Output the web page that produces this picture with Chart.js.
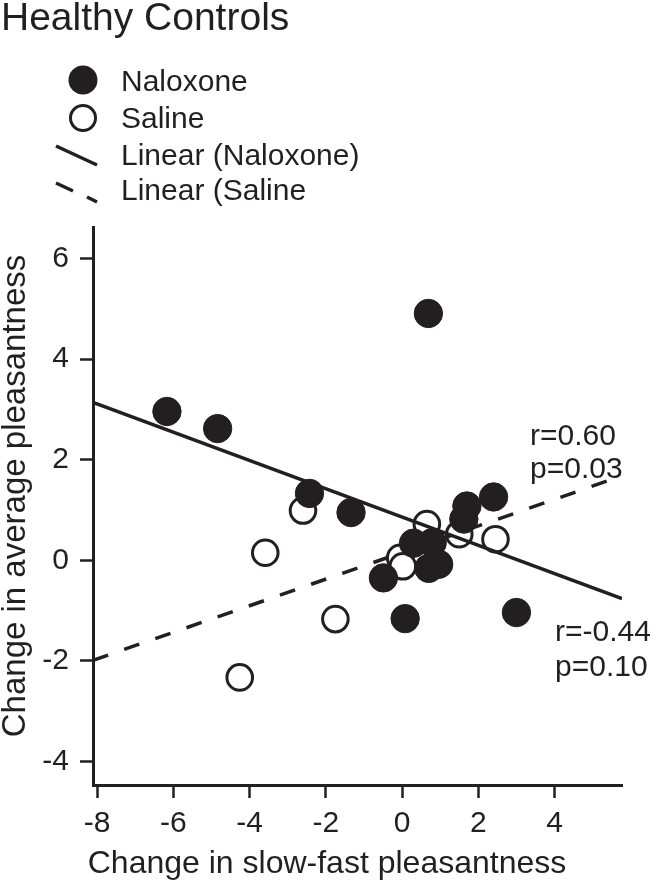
<!DOCTYPE html>
<html>
<head>
<meta charset="utf-8">
<title>Healthy Controls</title>
<script src="https://cdn.jsdelivr.net/npm/chart.js@4"></script>
<style>
  html, body { margin: 0; padding: 0; background: #fff; }
  #wrap { width: 652px; height: 887px; }
</style>
</head>
<body>
<div id="wrap"><canvas id="chart" width="652" height="887"></canvas></div>
<script>
// Values
const naloxoneX = [0.69, -6.17, -4.84, -2.43, -1.34, 1.70, 2.40, 1.62, 0.30, 0.79, 0.70, 0.96, -0.49, 0.08, 3.00];
const naloxoneY = [4.91, 2.96, 2.62, 1.33, 0.95, 1.08, 1.26, 0.82, 0.34, 0.35, -0.16, -0.08, -0.35, -1.16, -1.04];

const salineX = [-4.26, -3.59, -2.60, -1.75, -0.05, 0.02, 0.65, 1.50, 2.45];
const salineY = [-2.33, 0.15, 0.99, -1.17, 0.05, -0.12, 0.72, 0.52, 0.42];

// Linear fits, end points at the axis edges
const fitX = [-8.11, 5.77];
const naloxoneFitY = [3.14, -0.76];
const salineFitY = [-1.99, 1.68];

const xRange = [-8.11, 5.77];
const yRange = [-4.47, 6.63];
const xTicks = [-8, -6, -4, -2, 0, 2, 4];
const yTicks = [-4, -2, 0, 2, 4, 6];

const INK = '#231f20';
const FONT = '"Liberation Sans", Arial, Helvetica, sans-serif';

function toPoints(xs, ys) {
  return xs.map((x, i) => ({ x: x, y: ys[i] }));
}

// title, legend, axis titles and r/p notes
const figureText = {
  id: 'figureText',
  afterDraw(chart) {
    const ctx = chart.ctx;
    ctx.save();
    ctx.fillStyle = INK;
    ctx.strokeStyle = INK;
    ctx.textAlign = 'left';
    ctx.textBaseline = 'middle';

    ctx.font = '39px ' + FONT;
    ctx.fillText('Healthy Controls', 1, 19);

    // legend
    ctx.font = '30px ' + FONT;
    ctx.beginPath();
    ctx.arc(83, 80, 14.5, 0, Math.PI * 2);
    ctx.fill();
    ctx.lineWidth = 3;
    ctx.beginPath();
    ctx.arc(83, 118, 12.5, 0, Math.PI * 2);
    ctx.stroke();
    ctx.lineWidth = 3.5;
    ctx.beginPath();
    ctx.moveTo(56, 146);
    ctx.lineTo(97, 165);
    ctx.stroke();
    ctx.beginPath();
    ctx.moveTo(56, 183);
    ctx.lineTo(73, 191);
    ctx.moveTo(87, 197);
    ctx.lineTo(97, 202);
    ctx.stroke();
    ctx.fillText('Naloxone', 121, 83);
    ctx.fillText('Saline', 121, 120);
    ctx.fillText('Linear (Naloxone)', 121, 157);
    ctx.fillText('Linear (Saline', 121, 192);

    // correlation notes
    ctx.font = '30px ' + FONT;
    ctx.fillText('r=0.60', 530, 437);
    ctx.fillText('p=0.03', 530, 470);
    ctx.fillText('r=-0.44', 555, 633);
    ctx.fillText('p=0.10', 555, 668);

    // axis titles
    ctx.textAlign = 'center';
    ctx.textBaseline = 'alphabetic';
    ctx.font = '32px ' + FONT;
    ctx.fillText('Change in slow-fast pleasantness', 327, 873);
    ctx.font = '33px ' + FONT;
    ctx.translate(25, 496);
    ctx.rotate(-Math.PI / 2);
    ctx.fillText('Change in average pleasantness', 0, 0);
    ctx.restore();
  }
};

function axis(range, ticks, fit) {
  return {
    type: 'linear',
    min: range[0],
    max: range[1],
    afterBuildTicks: (s) => { s.ticks = ticks.map(v => ({ value: v })); },
    afterFit: fit,
    border: { display: true, color: INK, width: 3 },
    grid: { display: true, drawOnChartArea: false, drawTicks: true, tickLength: 13, tickWidth: 2.5, tickColor: INK },
    ticks: { color: INK, font: { family: FONT, size: 30 }, padding: 11, maxRotation: 0 }
  };
}

const xAxis = axis(xRange, xTicks, (s) => { s.height = 102; });
xAxis.ticks.padding = 8;
const yAxis = axis(yRange, yTicks, (s) => { s.width = 93; });

new Chart(document.getElementById('chart'), {
  type: 'scatter',
  data: {
    datasets: [
      {
        label: 'Linear (Naloxone)',
        type: 'line',
        data: toPoints(fitX, naloxoneFitY),
        borderColor: INK,
        borderWidth: 3.5,
        pointRadius: 0,
        fill: false,
        order: 0
      },
      {
        label: 'Linear (Saline',
        type: 'line',
        data: toPoints(fitX, salineFitY),
        borderColor: INK,
        borderWidth: 3.5,
        borderDash: [16, 17],
        pointRadius: 0,
        fill: false,
        order: 0
      },
      {
        label: 'Naloxone',
        data: toPoints(naloxoneX, naloxoneY),
        backgroundColor: INK,
        borderColor: INK,
        borderWidth: 1,
        pointRadius: 14.2,
        pointHoverRadius: 14.2,
        order: 1
      },
      {
        label: 'Saline',
        data: toPoints(salineX, salineY),
        backgroundColor: '#ffffff',
        borderColor: INK,
        borderWidth: 3,
        pointRadius: 12.8,
        pointHoverRadius: 12.8,
        order: 2
      }
    ]
  },
  options: {
    responsive: false,
    animation: false,
    events: [],
    layout: { padding: { top: 227, right: 30, left: 0, bottom: 0 } },
    plugins: {
      legend: { display: false },
      title: { display: false },
      tooltip: { enabled: false }
    },
    scales: { x: xAxis, y: yAxis }
  },
  plugins: [figureText]
});
</script>
</body>
</html>
